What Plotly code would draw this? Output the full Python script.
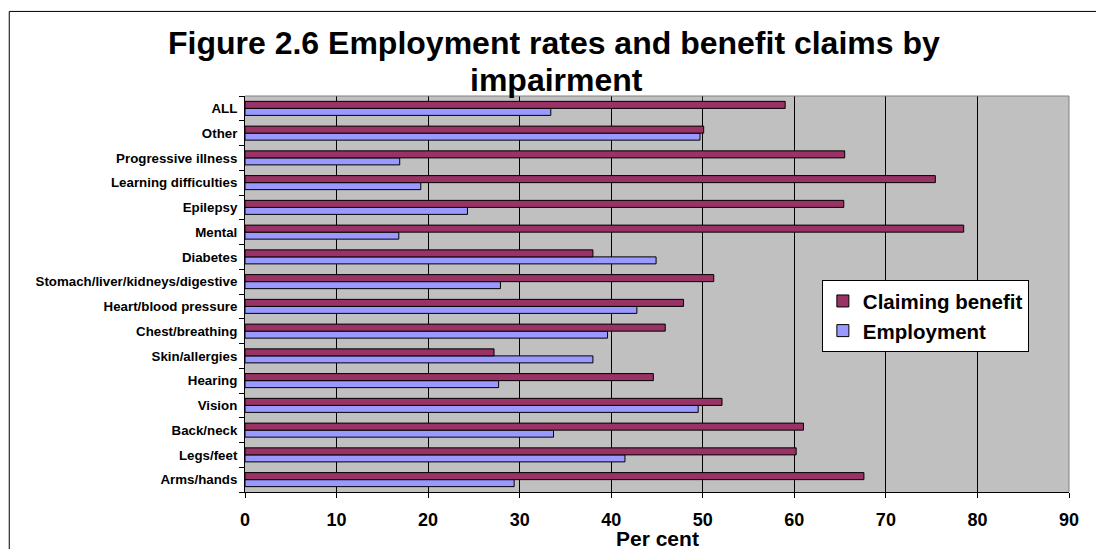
import plotly.graph_objects as go

categories = ["Arms/hands", "Legs/feet", "Back/neck", "Vision", "Hearing", "Skin/allergies",
              "Chest/breathing", "Heart/blood pressure", "Stomach/liver/kidneys/digestive",
              "Diabetes", "Mental", "Epilepsy", "Learning difficulties", "Progressive illness",
              "Other", "ALL"]
claiming_benefit = [67.6, 60.2, 61.0, 52.1, 44.6, 27.2, 45.9, 47.9, 51.2, 38.0, 78.5, 65.4, 75.4, 65.5, 50.1, 59.0]
employment = [29.4, 41.5, 33.7, 49.5, 27.7, 38.0, 39.6, 42.8, 27.9, 44.9, 16.8, 24.3, 19.2, 16.9, 49.7, 33.4]
x_ticks = [0, 10, 20, 30, 40, 50, 60, 70, 80, 90]

W, H = 1096, 549
PL, PR, PT, PB = 244.5, 1069.4, 96.0, 491.7
FONT = "Liberation Sans, Arial, sans-serif"


def px_x(p):
    return (p - PL) / (PR - PL)


def px_y(p):
    return (PB - p) / (PB - PT)


fig = go.Figure()
fig.add_trace(go.Bar(
    y=categories, x=employment, orientation="h", name="Employment",
    legendgroup="emp", legendrank=2,
    marker=dict(color="#9999FF", line=dict(color="black", width=1)),
))
fig.add_trace(go.Bar(
    y=categories, x=claiming_benefit, orientation="h", name="Claiming benefit",
    legendgroup="claim", legendrank=1,
    marker=dict(color="#993366", line=dict(color="black", width=1)),
))

fig.update_layout(
    width=W, height=H, autosize=False,
    margin=dict(l=PL, r=W - PR, t=PT, b=H - PB, pad=0),
    paper_bgcolor="white",
    plot_bgcolor="#C0C0C0",
    barmode="group", bargap=0.433, bargroupgap=0,
    font=dict(family=FONT, color="black"),
    showlegend=True,
    legend=dict(
        x=px_x(822), y=px_y(280), xanchor="left", yanchor="top",
        bgcolor="white", bordercolor="black", borderwidth=1,
        font=dict(family=FONT, size=20.5, color="black", weight="bold"),
        traceorder="grouped", tracegroupgap=0,
        itemwidth=30,
    ),
    xaxis=dict(
        range=[0, 90], tickvals=x_ticks, ticktext=[str(v) for v in x_ticks],
        showgrid=True, gridcolor="black", gridwidth=1,
        zeroline=False, showline=True, linecolor="black", linewidth=1,
        ticks="outside", ticklen=5, tickcolor="black",
        tickfont=dict(family=FONT, size=18, color="black", weight="bold"),
        ticklabelstandoff=6,
    ),
    yaxis=dict(
        type="category", categoryorder="array", categoryarray=categories,
        showgrid=False, zeroline=False, showline=True, linecolor="black", linewidth=1,
        ticks="outside", ticklen=5, tickcolor="black", tickson="boundaries",
        tickfont=dict(family=FONT, size=13.3, color="black", weight="bold"),
        ticklabelstandoff=4,
    ),
    shapes=[
        dict(type="line", xref="paper", yref="paper", x0=0, x1=1, y0=1, y1=1,
             line=dict(color="#808080", width=1)),
        dict(type="line", xref="paper", yref="paper", x0=1, x1=1, y0=0, y1=1,
             line=dict(color="#808080", width=1)),
        dict(type="rect", xref="paper", yref="paper",
             x0=px_x(8.5), x1=px_x(1200), y0=px_y(700), y1=px_y(11.5),
             line=dict(color="black", width=1), fillcolor="rgba(0,0,0,0)", layer="above"),
    ],
    annotations=[
        dict(text="<b>Figure 2.6 Employment rates and benefit claims by</b>",
             xref="paper", yref="paper", x=px_x(554), y=px_y(43),
             xanchor="center", yanchor="middle", showarrow=False,
             font=dict(family=FONT, size=32, color="black")),
        dict(text="<b>impairment</b>",
             xref="paper", yref="paper", x=px_x(556), y=px_y(80),
             xanchor="center", yanchor="middle", showarrow=False,
             font=dict(family=FONT, size=32, color="black")),
        dict(text="<b>Per cent</b>",
             xref="paper", yref="paper", x=0.5, y=px_y(538.5),
             xanchor="center", yanchor="middle", showarrow=False,
             font=dict(family=FONT, size=21, color="black")),
    ],
)

fig.write_html("out.html")
